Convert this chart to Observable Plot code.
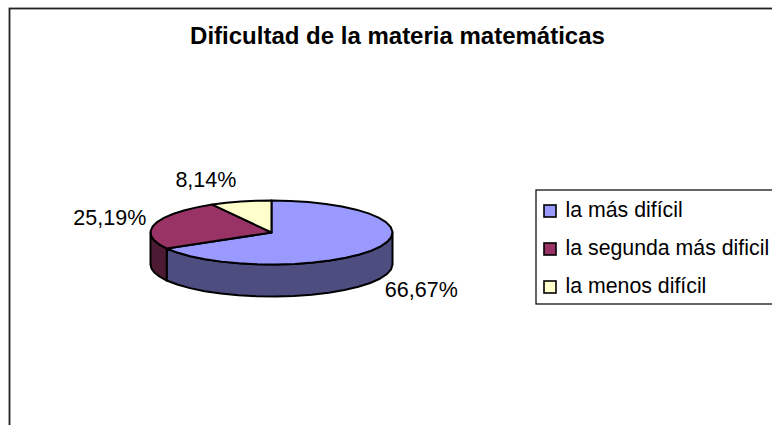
<!DOCTYPE html>
<html><head><meta charset="utf-8">
<script src="https://cdn.jsdelivr.net/npm/d3@7"></script>
<script src="https://cdn.jsdelivr.net/npm/@observablehq/plot@0.6"></script>
<style>html,body{margin:0;padding:0;background:#fff}svg{display:block}</style>
</head><body><div id="c"></div>
<script>
const categories = ["la más difícil","la segunda más dificil","la menos difícil"];
const shares = [66.67,25.19,8.14];
const shareLabels = ["66,67%","25,19%","8,14%"];
const topColors = ["#9999ff","#993366","#ffffcc"];
const sideColors = ["#4d4d80","#4d1a33","#80805f"];
const titleText = "Dificultad de la materia matemáticas";

const W=772,H=425;
const pie={cx:271,cy:232,rx:121,ry:32,depth:32};
const labelOffset=[[45,42],[-45,-6],[-35,-21]];
const total=d3.sum(shares);
const rad=d=>d*Math.PI/180;
const px=a=>pie.cx+pie.rx*Math.sin(rad(a));
const py=a=>pie.cy-pie.ry*Math.cos(rad(a));
let acc=0;
const slices=shares.map((v,i)=>{const a0=acc/total*360;acc+=v;const a1=acc/total*360;return {i,a0,a1};});
const steps=(a0,a1)=>{const n=Math.max(2,Math.ceil((a1-a0)/9));return d3.range(n+1).map(k=>a0+(a1-a0)*k/n);};
const topPts=slices.flatMap(s=>[{k:s.i,x:pie.cx,y:pie.cy,fill:topColors[s.i]},...steps(s.a0,s.a1).map(a=>({k:s.i,x:px(a),y:py(a),fill:topColors[s.i]})),{k:s.i,x:pie.cx,y:pie.cy,fill:topColors[s.i]}]);
const sidePts=slices.flatMap(s=>{const a0=Math.max(s.a0,90),a1=Math.min(s.a1,270);if(a1<=a0)return [];const st=steps(a0,a1);
  return [...st.map(a=>({k:s.i,x:px(a),y:py(a),fill:sideColors[s.i]})),...st.slice().reverse().map(a=>({k:s.i,x:px(a),y:py(a)+pie.depth,fill:sideColors[s.i]})),{k:s.i,x:px(a0),y:py(a0),fill:sideColors[s.i]}];});
const labels=slices.map(s=>{const m=(s.a0+s.a1)/2;return {x:px(m)+labelOffset[s.i][0],y:py(m)+labelOffset[s.i][1],t:shareLabels[s.i]};});
const legend={x:536,y:190,w:250,h:114,first:211,step:38,sw:12,tx:565};
const legRows=categories.map((c,i)=>({c,i,y:legend.first+legend.step*i,fill:topColors[i]}));
const font="Liberation Sans, Arial, sans-serif";
const frame=[{x1:9.5,y1:8.5,x2:W+5,y2:H+5}];

const chart=Plot.plot({width:W,height:H,margin:0,
 x:{type:"identity",axis:null},y:{type:"identity",axis:null},color:{type:"identity"},
 style:{background:"#fff",fontFamily:font},
 marks:[
  Plot.rect(frame,{x1:"x1",y1:"y1",x2:"x2",y2:"y2",fill:"#fff",stroke:"#222",strokeWidth:1.8}),
  Plot.line(sidePts,{x:"x",y:"y",z:"k",fill:"fill",stroke:"#000",strokeWidth:2,curve:"linear"}),
  Plot.line(topPts,{x:"x",y:"y",z:"k",fill:"fill",stroke:"#000",strokeWidth:2,curve:"linear"}),
  Plot.text([titleText],{x:()=>397,y:()=>36,text:d=>d,fontSize:24,fontWeight:"bold",fill:"#000",fontFamily:font}),
  Plot.text(labels,{x:"x",y:"y",text:"t",fontSize:21.5,fill:"#000",fontFamily:font}),
  Plot.rect([legend],{x1:d=>d.x,y1:d=>d.y,x2:d=>d.x+d.w,y2:d=>d.y+d.h,fill:"#fff",stroke:"#000",strokeWidth:1.2}),
  Plot.rect(legRows,{x1:()=>legend.x+8,x2:()=>legend.x+8+legend.sw,y1:d=>d.y-legend.sw/2,y2:d=>d.y+legend.sw/2,fill:"fill",stroke:"#000",strokeWidth:1.6}),
  Plot.text(legRows,{x:()=>legend.tx,y:d=>d.y-1,text:"c",textAnchor:"start",fontSize:21.3,fill:"#000",fontFamily:font})
 ]});
document.getElementById("c").append(chart);
</script></body></html>
